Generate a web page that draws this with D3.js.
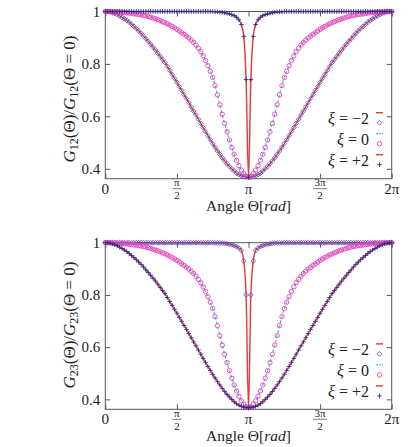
<!DOCTYPE html>
<html><head><meta charset="utf-8">
<script src="https://cdn.jsdelivr.net/npm/d3@7"></script>
<style>
body{margin:0;background:#fff}
svg{display:block}
</style>
</head><body>
<svg id="c" width="409" height="447" font-family="'Liberation Serif','DejaVu Serif',serif"></svg>
<script>
// ---------- data ----------
const angleDeg = [0,3,6,9,12,15,18,21,24,27,30,33,36,39,42,45,48,51,54,57,60,63,66,69,72,75,78,81,84,87,90,93,96,99,102,105,108,111,114,117,120,123,126,129,132,135,138,141,144,147,150,153,156,159,162,165,168,171,174,177,180,183,186,189,192,195,198,201,204,207,210,213,216,219,222,225,228,231,234,237,240,243,246,249,252,255,258,261,264,267,270,273,276,279,282,285,288,291,294,297,300,303,306,309,312,315,318,321,324,327,330,333,336,339,342,345,348,351,354,357,360];

const xTickValues = [0, 90, 180, 270, 360];
const xTickLabels = ["0", "π/2", "π", "3π/2", "2π"];
const yTickValues = [0.4, 0.6, 0.8, 1];
const yTickLabels = ["0.4", "0.6", "0.8", "1"];
const xiLabels = ["−2", "0", "+2"];

// G12 panel
const g12XiM2 = [1.000,1.000,0.998,0.996,0.992,0.988,0.983,0.978,0.972,0.966,0.959,0.951,0.943,0.935,0.926,0.917,0.907,0.896,0.886,0.875,0.864,0.853,0.841,0.829,0.817,0.805,0.790,0.775,0.760,0.745,0.730,0.714,0.699,0.683,0.668,0.652,0.636,0.620,0.605,0.589,0.573,0.557,0.542,0.526,0.511,0.496,0.482,0.468,0.455,0.442,0.430,0.419,0.409,0.400,0.391,0.383,0.378,0.373,0.370,0.369,0.368,
0.369,0.370,0.373,0.378,0.383,0.391,0.400,0.409,0.419,0.430,0.442,0.455,0.468,0.482,0.496,0.511,0.526,0.542,0.557,0.573,0.589,0.605,0.620,0.636,0.652,0.668,0.683,0.699,0.714,0.730,0.745,0.760,0.775,0.790,0.805,0.817,0.829,0.841,0.853,0.864,0.875,0.886,0.896,0.907,0.917,0.926,0.935,0.943,0.951,0.959,0.966,0.972,0.978,0.983,0.988,0.992,0.996,0.998,1.000,1.000];
const g12Xi0 = [1.000,1.000,1.000,0.999,0.999,0.998,0.998,0.997,0.996,0.995,0.994,0.993,0.991,0.990,0.989,0.987,0.985,0.983,0.981,0.978,0.975,0.972,0.969,0.965,0.961,0.957,0.953,0.948,0.943,0.938,0.932,0.926,0.919,0.913,0.906,0.899,0.891,0.882,0.872,0.860,0.847,0.831,0.813,0.793,0.772,0.748,0.717,0.682,0.644,0.608,0.573,0.541,0.510,0.481,0.455,0.432,0.412,0.395,0.382,0.372,0.368,
0.372,0.382,0.395,0.412,0.432,0.455,0.481,0.510,0.541,0.573,0.608,0.644,0.682,0.717,0.748,0.772,0.793,0.813,0.831,0.847,0.860,0.872,0.882,0.891,0.899,0.906,0.913,0.919,0.926,0.932,0.938,0.943,0.948,0.953,0.957,0.961,0.965,0.969,0.972,0.975,0.978,0.981,0.983,0.985,0.987,0.989,0.990,0.991,0.993,0.994,0.995,0.996,0.997,0.998,0.998,0.999,0.999,1.000,1.000,1.000];
const g12XiP2 = [1,1,1,1,1,1,1,1,1,1, 1,1,1,1,1,1,1,1,1,1, 1,1,1,1,1,1,1,1,1,1, 1,1,1,1,1,1,1,1,1,1, 1,1,1,1,1,1,
0.999,0.999,0.998,0.997,0.995,0.993,0.991,0.988,0.984,0.978,0.968,0.950,0.905,0.740,0.368,
0.740,0.905,0.950,0.968,0.978,0.984,0.988,0.991,0.993,0.995,0.997,0.998,0.999,0.999,
1,1,1,1,1,1,1,1,1,1, 1,1,1,1,1,1,1,1,1,1, 1,1,1,1,1,1,1,1,1,1, 1,1,1,1,1,1,1,1,1,1, 1,1,1,1,1,1];

// G23 panel
const g23XiM2 = [1,1,1,1,1,1,1,1,1,1, 1,1,1,1,1,1,1,1,1,1, 1,1,1,1,1,1,1,1,1,1, 1,1,1,1,1,1,1,1,1,1, 1,1,1,1,1,1,
0.999,0.999,0.999,0.998,0.997,0.996,0.994,0.992,0.989,0.985,0.980,0.970,0.930,0.800,0.368,
0.800,0.930,0.970,0.980,0.985,0.989,0.992,0.994,0.996,0.997,0.998,0.999,0.999,0.999,
1,1,1,1,1,1,1,1,1,1, 1,1,1,1,1,1,1,1,1,1, 1,1,1,1,1,1,1,1,1,1, 1,1,1,1,1,1,1,1,1,1, 1,1,1,1,1,1];
const g23Xi0 = [1.000,1.000,1.000,0.999,0.999,0.998,0.998,0.997,0.996,0.995,0.994,0.993,0.991,0.990,0.989,0.987,0.985,0.983,0.981,0.978,0.975,0.972,0.969,0.965,0.961,0.957,0.953,0.948,0.943,0.938,0.932,0.926,0.919,0.913,0.906,0.899,0.891,0.882,0.872,0.860,0.847,0.831,0.813,0.793,0.772,0.748,0.717,0.682,0.644,0.608,0.573,0.541,0.510,0.481,0.455,0.432,0.412,0.395,0.382,0.372,0.368,
0.372,0.382,0.395,0.412,0.432,0.455,0.481,0.510,0.541,0.573,0.608,0.644,0.682,0.717,0.748,0.772,0.793,0.813,0.831,0.847,0.860,0.872,0.882,0.891,0.899,0.906,0.913,0.919,0.926,0.932,0.938,0.943,0.948,0.953,0.957,0.961,0.965,0.969,0.972,0.975,0.978,0.981,0.983,0.985,0.987,0.989,0.990,0.991,0.993,0.994,0.995,0.996,0.997,0.998,0.998,0.999,0.999,1.000,1.000,1.000];
const g23XiP2 = [1.000,1.000,0.998,0.996,0.992,0.988,0.983,0.978,0.972,0.966,0.959,0.951,0.943,0.935,0.926,0.917,0.907,0.896,0.886,0.875,0.864,0.853,0.841,0.829,0.817,0.805,0.790,0.775,0.760,0.745,0.730,0.714,0.699,0.683,0.668,0.652,0.636,0.620,0.605,0.589,0.573,0.557,0.542,0.526,0.511,0.496,0.482,0.468,0.455,0.442,0.430,0.419,0.409,0.400,0.391,0.383,0.378,0.373,0.370,0.369,0.368,
0.369,0.370,0.373,0.378,0.383,0.391,0.400,0.409,0.419,0.430,0.442,0.455,0.468,0.482,0.496,0.511,0.526,0.542,0.557,0.573,0.589,0.605,0.620,0.636,0.652,0.668,0.683,0.699,0.714,0.730,0.745,0.760,0.775,0.790,0.805,0.817,0.829,0.841,0.853,0.864,0.875,0.886,0.896,0.907,0.917,0.926,0.935,0.943,0.951,0.959,0.966,0.972,0.978,0.983,0.988,0.992,0.996,0.998,1.000,1.000];

// ---------- drawing ----------
const FONT = "'Liberation Serif','DejaVu Serif',serif";
const svg = d3.select("#c");
const W = {left:105.3, right:391.7};
const panels = [
  {top:11.5, bottom:178.7, sub:"12", data:[g12XiM2, g12Xi0, g12XiP2], labelY:99},
  {top:242.7, bottom:409.3, sub:"23", data:[g23XiM2, g23Xi0, g23XiP2], labelY:325}
];
const RED = "#f03434", CYAN = "#3cbcf0", PINK = "#f03cb4", BLUE = "#4d4dc4", NAVY = "#2a2a8c";

function marker(sel, type) {
  if (type === "circle") {
    sel.append("circle").attr("r", 2.2).attr("fill", "none").attr("stroke", PINK).attr("stroke-width", 0.9);
  } else if (type === "diamond") {
    sel.append("path").attr("d", "M0,-2.4L2.4,0L0,2.4L-2.4,0Z").attr("fill", "none").attr("stroke", BLUE).attr("stroke-width", 0.8);
  } else {
    sel.append("path").attr("d", "M-2.3,0H2.3M0,-2.3V2.3").attr("stroke", NAVY).attr("stroke-width", 0.9);
  }
}
const styles = [
  {line: RED, dash: null, width: 1.4, mk: "diamond"},
  {line: CYAN, dash: "3,2", width: 1.2, mk: "circle"},
  {line: RED, dash: null, width: 1.4, mk: "plus"}
];

panels.forEach(p => {
  const x = d3.scaleLinear().domain([0, 360]).range([W.left, W.right]);
  const y = d3.scaleLinear().domain([0.362, 1]).range([p.bottom, p.top]);
  const g = svg.append("g");

  const axStyle = s => {
    s.attr("font-family", FONT).attr("font-size", null);
    s.select(".domain").remove();
    s.selectAll("line").attr("stroke", "#555");
  };
  g.append("g").attr("transform", `translate(${W.left},0)`)
    .call(d3.axisLeft(y).tickValues(yTickValues).tickSize(-5).tickPadding(5).tickFormat((d, i) => yTickLabels[i]))
    .call(axStyle)
    .call(s => s.selectAll("text").attr("font-size", 15).attr("font-family", FONT).attr("fill", "#222"));
  g.append("g").attr("transform", `translate(${W.right},0)`)
    .call(d3.axisRight(y).tickValues(yTickValues).tickSize(-5).tickFormat("")).call(axStyle);
  g.append("g").attr("transform", `translate(0,${p.bottom})`)
    .call(d3.axisBottom(x).tickValues(xTickValues).tickSize(-5).tickFormat("")).call(axStyle);
  g.append("g").attr("transform", `translate(0,${p.top})`)
    .call(d3.axisTop(x).tickValues(xTickValues).tickSize(-5).tickFormat("")).call(axStyle);

  g.append("rect").attr("x", W.left).attr("y", p.top).attr("width", W.right - W.left)
    .attr("height", p.bottom - p.top).attr("fill", "none").attr("stroke", "#555").attr("stroke-width", 1);

  const txt = (sel) => sel.append("text").attr("font-family", FONT).attr("fill", "#222");

  // x tick labels
  xTickValues.forEach((v, i) => {
    const lab = xTickLabels[i], cx = x(v);
    if (lab.includes("/")) {
      const [num, den] = lab.split("/");
      txt(g).attr("x", cx).attr("y", p.bottom + 7.5).attr("text-anchor", "middle").attr("font-size", 11).text(num);
      const hw = num.length > 1 ? 7 : 4.5;
      g.append("line").attr("x1", cx - hw).attr("x2", cx + hw).attr("y1", p.bottom + 10).attr("y2", p.bottom + 10)
        .attr("stroke", "#222").attr("stroke-width", 0.6);
      txt(g).attr("x", cx).attr("y", p.bottom + 20.3).attr("text-anchor", "middle").attr("font-size", 11).text(den);
    } else {
      txt(g).attr("x", cx).attr("y", p.bottom + 15).attr("text-anchor", "middle").attr("font-size", 15).text(lab);
    }
  });

  // x axis title
  const xt = txt(g).attr("x", 248.5).attr("y", p.bottom + 32).attr("text-anchor", "middle").attr("font-size", 15.5);
  xt.append("tspan").text("Angle Θ[");
  xt.append("tspan").attr("font-style", "italic").text("rad");
  xt.append("tspan").text("]");

  // y axis title
  const yt = txt(g).attr("transform", `translate(75,${p.labelY}) rotate(-90)`)
    .attr("text-anchor", "middle").attr("font-size", 17);
  yt.append("tspan").attr("font-style", "italic").text("G");
  yt.append("tspan").attr("font-size", 12).attr("dy", 3).text(p.sub);
  yt.append("tspan").attr("dy", -3).text("(Θ)/");
  yt.append("tspan").attr("font-style", "italic").text("G");
  yt.append("tspan").attr("font-size", 12).attr("dy", 3).text(p.sub);
  yt.append("tspan").attr("dy", -3).text("(Θ = 0)");

  // series
  p.data.forEach((vals, k) => {
    const st = styles[k];
    const pts = angleDeg.map((a, i) => [a, vals[i]]);
    const line = d3.line().x(d => x(d[0])).y(d => y(d[1])).curve(d3.curveMonotoneX);
    g.append("path").attr("d", line(pts)).attr("fill", "none").attr("stroke", st.line)
      .attr("stroke-width", st.width).attr("stroke-dasharray", st.dash);
    g.append("g").selectAll("g").data(pts).join("g")
      .attr("transform", d => `translate(${x(d[0])},${y(d[1])})`)
      .each(function () { marker(d3.select(this), st.mk); });
  });

  // legend
  xiLabels.forEach((lab, k) => {
    const st = styles[k];
    const base = p.top + 112.5 + 21 * k;
    const t = txt(g).attr("x", 369).attr("y", base).attr("text-anchor", "end").attr("font-size", 16);
    t.append("tspan").attr("font-style", "italic").text("ξ");
    t.append("tspan").text(" = " + lab);
    g.append("line").attr("x1", 376).attr("x2", 383).attr("y1", base - 11.3).attr("y2", base - 11.3)
      .attr("stroke", st.line).attr("stroke-width", st.width).attr("stroke-dasharray", st.dash ? "2,1" : null);
    marker(g.append("g").attr("transform", `translate(379.5,${base - 1.3})`), st.mk);
  });
});
</script>
</body></html>
